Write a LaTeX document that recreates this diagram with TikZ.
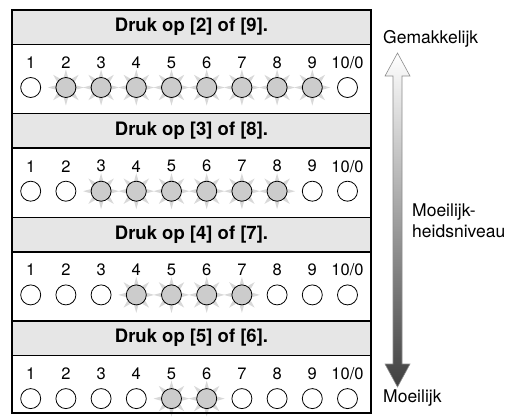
\documentclass[tikz,border=0pt]{standalone}
\usepackage{fontspec}
\setmainfont{TeX Gyre Heros}
\definecolor{hdrgray}{HTML}{E6E6E6}
\definecolor{litgray}{HTML}{CCCCCC}
\definecolor{spikegray}{HTML}{D8D8D8}
\begin{document}
\begin{tikzpicture}[x=1pt,y=-1pt,
  hdrtext/.style={font=\fontsize{18.5}{22}\selectfont\bfseries, inner sep=0pt},
  numtext/.style={font=\fontsize{16.5}{20}\selectfont, inner sep=0pt},
  lbl/.style={font=\fontsize{17.5}{21.5}\selectfont, inner sep=0pt},
  lamp/.style={circle, draw=black, line width=0.8pt, minimum size=20pt, inner sep=0pt},
  lampon/.style={lamp, fill=litgray},
  lampoff/.style={lamp, fill=white},
  spike/.style={fill=spikegray},
  rule/.style={line width=1.5pt}]
\useasboundingbox (0,0) rectangle (522,420);
\foreach \s/\a/\b in {0/2/9,1/3/8,2/4/7,3/5/6}{
  \pgfmathsetmacro\T{10+\s*103.7}
  \pgfmathsetmacro\B{\T+34.5}
  \fill[hdrgray] (12,\T) rectangle (371,\B);
  \draw[rule] (12,\T) -- (371,\T) (12,\B) -- (371,\B);
  \node[hdrtext] (h\s) at (191.5,\T+17) {Druk op [\a] of [\b].};
  \foreach \i in {1,...,10}{
    \pgfmathsetmacro\cx{30.7+35.2*(\i-1)}
    \pgfmathsetmacro\ny{\B+18}
    \pgfmathsetmacro\cy{\B+43}
    \pgfmathtruncatemacro\L{and(\i>=\a,\i<=\b)}
    \node[numtext] (n\s-\i) at (\cx,\ny) {\ifnum\i=10 10/0\else\i\fi};
    \ifnum\L=1
      \foreach \ang in {0,45,...,315}{
        \fill[spike, shift={(\cx,\cy)}] (\ang-17:9) -- (\ang:18) -- (\ang+17:9) -- cycle;
      }
      \node[lampon] (c\s-\i) at (\cx,\cy) {};
    \else
      \node[lampoff] (c\s-\i) at (\cx,\cy) {};
    \fi
  }
}
\draw[line width=1.6pt] (12,10) rectangle (371,413);
% difficulty arrow
\path[top color=white, bottom color=black!75, draw=black!45, line width=0.6pt]
  (397.5,53) -- (410,76) -- (402,76) -- (402,364) -- (410,364) -- (397.5,387)
  -- (385,364) -- (393,364) -- (393,76) -- (385,76) -- cycle;
\node[lbl, anchor=west] (easy) at (383,39) {Gemakkelijk};
\node[lbl, anchor=west, align=left] (level) at (412,221) {Moeilijk-\\heidsniveau};
\node[lbl, anchor=west] (hard) at (383,398) {Moeilijk};
\end{tikzpicture}
\end{document}
